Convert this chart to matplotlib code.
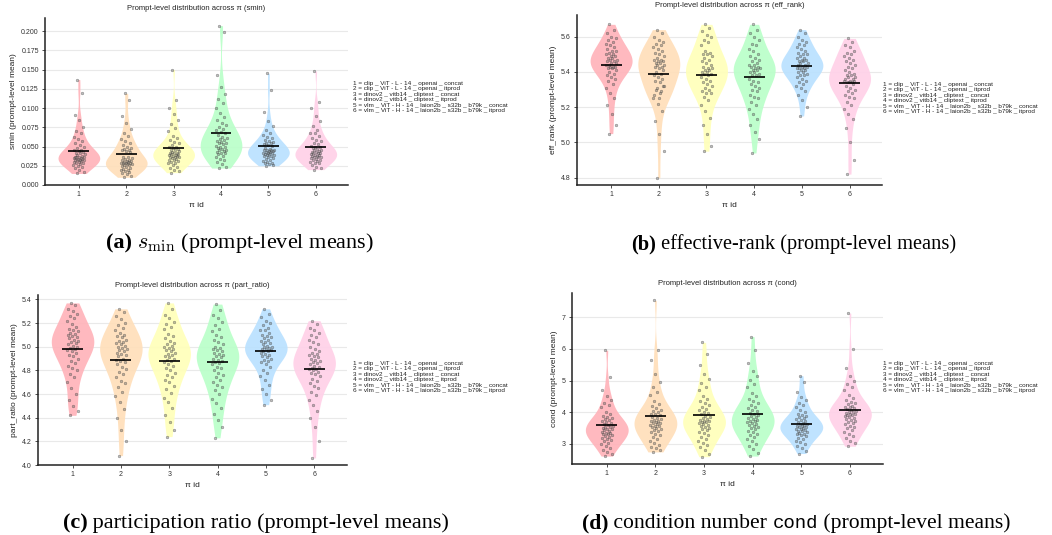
import numpy as np
import matplotlib
matplotlib.use("Agg")
import matplotlib.pyplot as plt
from matplotlib.offsetbox import TextArea, HPacker, AnnotationBbox

plt.rcParams["font.family"] = ["Liberation Sans", "DejaVu Sans"]
plt.rcParams["mathtext.fontset"] = "cm"

pi_ids = [1, 2, 3, 4, 5, 6]
pi_names = [
    "clip _ ViT - L - 14 _ openai _ concat",
    "clip _ ViT - L - 14 _ openai _ itprod",
    "dinov2 _ vitb14 _ cliptext _ concat",
    "dinov2 _ vitb14 _ cliptext _ itprod",
    "vlm _ ViT - H - 14 _ laion2b _ s32b _ b79k _ concat",
    "vlm _ ViT - H - 14 _ laion2b _ s32b _ b79k _ itprod",
]
colors = ["#FFB3BA", "#FFDFBA", "#FFFFBA", "#BAFFC9", "#BAE1FF", "#FFD1E8"]

# ---- prompt-level means ----
smin = [
    [0.015, 0.017, 0.020, 0.022, 0.024, 0.025, 0.026, 0.027, 0.028, 0.029,
     0.030, 0.030, 0.031, 0.032, 0.032, 0.033, 0.033, 0.034, 0.034, 0.035,
     0.035, 0.036, 0.036, 0.037, 0.037, 0.038, 0.039, 0.040, 0.041, 0.042,
     0.043, 0.044, 0.045, 0.046, 0.048, 0.050, 0.052, 0.054, 0.057, 0.060,
     0.063, 0.067, 0.070, 0.075, 0.085, 0.091, 0.120, 0.137],
    [0.010, 0.012, 0.014, 0.016, 0.017, 0.018, 0.019, 0.020, 0.021, 0.022,
     0.024, 0.025, 0.026, 0.026, 0.027, 0.027, 0.028, 0.028, 0.029, 0.029,
     0.030, 0.030, 0.031, 0.031, 0.032, 0.033, 0.034, 0.035, 0.036, 0.037,
     0.043, 0.044, 0.045, 0.046, 0.047, 0.048, 0.050, 0.052, 0.054, 0.057,
     0.060, 0.064, 0.068, 0.073, 0.080, 0.090, 0.110, 0.119],
    [0.016, 0.018, 0.020, 0.022, 0.024, 0.026, 0.028, 0.029, 0.030, 0.031,
     0.032, 0.033, 0.034, 0.035, 0.036, 0.037, 0.037, 0.038, 0.038, 0.039,
     0.039, 0.040, 0.040, 0.041, 0.041, 0.042, 0.043, 0.044, 0.045, 0.046,
     0.047, 0.048, 0.049, 0.050, 0.052, 0.054, 0.056, 0.058, 0.061, 0.064,
     0.070, 0.074, 0.079, 0.085, 0.092, 0.100, 0.110, 0.150],
    [0.022, 0.024, 0.027, 0.030, 0.032, 0.034, 0.036, 0.038, 0.040, 0.042,
     0.042, 0.043, 0.044, 0.045, 0.046, 0.047, 0.048, 0.049, 0.050, 0.051,
     0.053, 0.054, 0.055, 0.056, 0.057, 0.058, 0.060, 0.061, 0.063, 0.065,
     0.068, 0.069, 0.071, 0.073, 0.075, 0.078, 0.081, 0.084, 0.088, 0.093,
     0.100, 0.106, 0.112, 0.118, 0.127, 0.143, 0.199, 0.207],
    [0.025, 0.026, 0.027, 0.028, 0.029, 0.030, 0.031, 0.032, 0.034, 0.035,
     0.037, 0.038, 0.038, 0.039, 0.039, 0.040, 0.040, 0.041, 0.041, 0.042,
     0.043, 0.043, 0.044, 0.044, 0.045, 0.045, 0.046, 0.046, 0.047, 0.048,
     0.051, 0.052, 0.053, 0.054, 0.055, 0.056, 0.057, 0.059, 0.061, 0.063,
     0.065, 0.068, 0.072, 0.077, 0.083, 0.095, 0.123, 0.145],
    [0.020, 0.022, 0.024, 0.026, 0.028, 0.029, 0.030, 0.031, 0.032, 0.033,
     0.034, 0.035, 0.036, 0.036, 0.037, 0.038, 0.038, 0.039, 0.039, 0.040,
     0.041, 0.041, 0.042, 0.043, 0.043, 0.044, 0.045, 0.046, 0.047, 0.048,
     0.049, 0.050, 0.051, 0.053, 0.055, 0.057, 0.059, 0.061, 0.064, 0.067,
     0.068, 0.072, 0.077, 0.083, 0.090, 0.100, 0.108, 0.148],
]

eff_rank = [
    [5.05, 5.10, 5.16, 5.21, 5.25, 5.28, 5.31, 5.33, 5.35, 5.36,
     5.37, 5.38, 5.39, 5.40, 5.41, 5.42, 5.42, 5.43, 5.43, 5.44,
     5.43, 5.44, 5.45, 5.45, 5.46, 5.46, 5.47, 5.47, 5.48, 5.48,
     5.49, 5.49, 5.50, 5.50, 5.51, 5.52, 5.52, 5.53, 5.54, 5.55,
     5.56, 5.57, 5.58, 5.59, 5.60, 5.62, 5.64, 5.67],
    [4.80, 4.95, 5.05, 5.12, 5.18, 5.22, 5.25, 5.28, 5.30, 5.32,
     5.25, 5.27, 5.29, 5.31, 5.32, 5.34, 5.35, 5.36, 5.37, 5.38,
     5.39, 5.40, 5.41, 5.42, 5.43, 5.43, 5.44, 5.44, 5.45, 5.45,
     5.46, 5.46, 5.47, 5.47, 5.48, 5.49, 5.50, 5.51, 5.52, 5.53,
     5.54, 5.55, 5.56, 5.57, 5.58, 5.60, 5.62, 5.64],
    [4.95, 4.98, 5.05, 5.10, 5.14, 5.18, 5.21, 5.24, 5.26, 5.28,
     5.28, 5.29, 5.30, 5.31, 5.32, 5.33, 5.34, 5.35, 5.36, 5.37,
     5.38, 5.39, 5.39, 5.40, 5.40, 5.41, 5.41, 5.42, 5.42, 5.43,
     5.44, 5.45, 5.46, 5.47, 5.48, 5.49, 5.50, 5.50, 5.51, 5.52,
     5.55, 5.57, 5.58, 5.60, 5.61, 5.63, 5.65, 5.67],
    [4.94, 5.02, 5.06, 5.10, 5.13, 5.16, 5.19, 5.21, 5.23, 5.25,
     5.26, 5.27, 5.29, 5.30, 5.31, 5.32, 5.33, 5.34, 5.35, 5.36,
     5.38, 5.38, 5.39, 5.40, 5.40, 5.41, 5.41, 5.42, 5.42, 5.43,
     5.43, 5.44, 5.44, 5.45, 5.46, 5.47, 5.48, 5.49, 5.50, 5.52,
     5.53, 5.55, 5.56, 5.58, 5.60, 5.62, 5.64, 5.67],
    [5.15, 5.20, 5.24, 5.27, 5.29, 5.31, 5.32, 5.33, 5.34, 5.35,
     5.36, 5.37, 5.38, 5.38, 5.39, 5.40, 5.40, 5.41, 5.41, 5.42,
     5.42, 5.42, 5.43, 5.43, 5.44, 5.44, 5.45, 5.45, 5.46, 5.46,
     5.47, 5.47, 5.48, 5.48, 5.49, 5.50, 5.50, 5.51, 5.52, 5.53,
     5.54, 5.55, 5.56, 5.57, 5.58, 5.60, 5.62, 5.64],
    [4.82, 4.90, 5.00, 5.08, 5.13, 5.16, 5.19, 5.21, 5.23, 5.25,
     5.26, 5.27, 5.28, 5.29, 5.30, 5.31, 5.32, 5.33, 5.34, 5.35,
     5.34, 5.34, 5.35, 5.35, 5.36, 5.36, 5.37, 5.37, 5.38, 5.38,
     5.39, 5.40, 5.41, 5.42, 5.43, 5.44, 5.45, 5.46, 5.47, 5.48,
     5.49, 5.50, 5.51, 5.52, 5.54, 5.55, 5.57, 5.59],
]

part_ratio = [
    [4.42, 4.46, 4.50, 4.55, 4.60, 4.65, 4.70, 4.74, 4.77, 4.80,
     4.82, 4.84, 4.86, 4.88, 4.90, 4.92, 4.93, 4.95, 4.96, 4.97,
     4.98, 4.99, 5.00, 5.01, 5.02, 5.03, 5.04, 5.05, 5.06, 5.07,
     5.08, 5.09, 5.10, 5.11, 5.12, 5.13, 5.14, 5.15, 5.17, 5.19,
     5.22, 5.24, 5.26, 5.28, 5.30, 5.32, 5.35, 5.37],
    [4.08, 4.20, 4.30, 4.40, 4.47, 4.53, 4.58, 4.62, 4.66, 4.69,
     4.71, 4.74, 4.77, 4.79, 4.81, 4.83, 4.85, 4.87, 4.88, 4.89,
     4.90, 4.92, 4.93, 4.94, 4.95, 4.96, 4.97, 4.98, 4.99, 5.00,
     5.01, 5.02, 5.03, 5.04, 5.05, 5.06, 5.08, 5.09, 5.10, 5.12,
     5.14, 5.16, 5.18, 5.20, 5.23, 5.26, 5.29, 5.32],
    [4.24, 4.30, 4.36, 4.42, 4.48, 4.53, 4.57, 4.61, 4.64, 4.67,
     4.70, 4.72, 4.74, 4.76, 4.78, 4.80, 4.82, 4.84, 4.85, 4.87,
     4.88, 4.89, 4.90, 4.91, 4.92, 4.93, 4.94, 4.95, 4.96, 4.97,
     4.98, 4.99, 5.00, 5.01, 5.02, 5.03, 5.05, 5.07, 5.09, 5.11,
     5.15, 5.17, 5.19, 5.21, 5.24, 5.27, 5.32, 5.37],
    [4.23, 4.32, 4.38, 4.43, 4.48, 4.52, 4.56, 4.60, 4.63, 4.66,
     4.68, 4.70, 4.72, 4.74, 4.76, 4.78, 4.80, 4.82, 4.83, 4.85,
     4.86, 4.87, 4.88, 4.89, 4.90, 4.91, 4.92, 4.93, 4.94, 4.95,
     4.96, 4.97, 4.98, 4.99, 5.00, 5.02, 5.04, 5.06, 5.08, 5.10,
     5.13, 5.15, 5.18, 5.21, 5.24, 5.27, 5.31, 5.36],
    [4.51, 4.55, 4.60, 4.64, 4.68, 4.72, 4.75, 4.78, 4.80, 4.83,
     4.85, 4.87, 4.88, 4.89, 4.90, 4.91, 4.92, 4.93, 4.94, 4.95,
     4.96, 4.96, 4.97, 4.98, 4.98, 4.99, 5.00, 5.00, 5.01, 5.02,
     5.03, 5.04, 5.05, 5.06, 5.07, 5.08, 5.09, 5.10, 5.12, 5.14,
     5.14, 5.16, 5.18, 5.20, 5.22, 5.25, 5.28, 5.32],
    [4.06, 4.20, 4.32, 4.40, 4.46, 4.51, 4.55, 4.59, 4.62, 4.65,
     4.67, 4.69, 4.71, 4.73, 4.75, 4.77, 4.78, 4.79, 4.80, 4.81,
     4.81, 4.82, 4.83, 4.84, 4.85, 4.86, 4.87, 4.88, 4.89, 4.90,
     4.91, 4.92, 4.93, 4.94, 4.95, 4.96, 4.98, 5.00, 5.02, 5.04,
     5.06, 5.08, 5.10, 5.12, 5.14, 5.16, 5.19, 5.22],
]

cond = [
    [2.62, 2.68, 2.75, 2.82, 2.88, 2.94, 2.99, 3.04, 3.09, 3.14,
     3.15, 3.18, 3.21, 3.24, 3.27, 3.30, 3.32, 3.34, 3.36, 3.39,
     3.42, 3.44, 3.46, 3.48, 3.50, 3.52, 3.54, 3.56, 3.59, 3.62,
     3.66, 3.69, 3.72, 3.75, 3.78, 3.81, 3.85, 3.89, 3.94, 4.00,
     4.15, 4.22, 4.30, 4.40, 4.52, 4.70, 5.10, 5.95],
    [2.75, 2.80, 2.86, 2.92, 2.98, 3.04, 3.10, 3.16, 3.22, 3.28,
     3.33, 3.37, 3.41, 3.44, 3.47, 3.50, 3.53, 3.56, 3.58, 3.60,
     3.63, 3.65, 3.67, 3.69, 3.71, 3.73, 3.76, 3.79, 3.82, 3.86,
     3.90, 3.93, 3.96, 4.00, 4.04, 4.08, 4.13, 4.19, 4.26, 4.35,
     4.55, 4.65, 4.78, 4.95, 5.20, 5.65, 5.95, 7.52],
    [2.60, 2.70, 2.80, 2.89, 2.97, 3.04, 3.11, 3.17, 3.23, 3.29,
     3.35, 3.39, 3.43, 3.47, 3.50, 3.53, 3.56, 3.59, 3.62, 3.65,
     3.68, 3.70, 3.72, 3.74, 3.77, 3.80, 3.83, 3.86, 3.89, 3.93,
     3.98, 4.02, 4.06, 4.11, 4.16, 4.22, 4.28, 4.35, 4.43, 4.52,
     4.70, 4.80, 4.92, 5.05, 5.20, 5.50, 5.85, 6.20],
    [2.62, 2.72, 2.83, 2.93, 3.01, 3.08, 3.15, 3.21, 3.27, 3.32,
     3.38, 3.42, 3.46, 3.50, 3.53, 3.56, 3.59, 3.62, 3.65, 3.68,
     3.71, 3.74, 3.77, 3.80, 3.83, 3.86, 3.89, 3.92, 3.95, 3.99,
     4.04, 4.08, 4.12, 4.17, 4.22, 4.28, 4.35, 4.42, 4.50, 4.60,
     4.78, 4.90, 5.02, 5.15, 5.30, 5.55, 5.95, 6.38],
    [2.70, 2.78, 2.86, 2.93, 3.00, 3.06, 3.11, 3.16, 3.20, 3.24,
     3.27, 3.30, 3.33, 3.36, 3.38, 3.40, 3.42, 3.44, 3.46, 3.48,
     3.50, 3.52, 3.54, 3.56, 3.58, 3.60, 3.62, 3.64, 3.66, 3.69,
     3.72, 3.75, 3.78, 3.81, 3.84, 3.87, 3.91, 3.95, 4.00, 4.06,
     4.15, 4.22, 4.30, 4.38, 4.48, 4.65, 4.95, 5.15],
    [2.93, 3.02, 3.10, 3.18, 3.25, 3.32, 3.38, 3.44, 3.49, 3.54,
     3.58, 3.62, 3.66, 3.69, 3.72, 3.75, 3.78, 3.81, 3.84, 3.87,
     3.90, 3.92, 3.94, 3.96, 3.98, 4.00, 4.02, 4.05, 4.08, 4.11,
     4.12, 4.15, 4.18, 4.21, 4.25, 4.29, 4.33, 4.38, 4.45, 4.55,
     4.70, 4.78, 4.88, 5.00, 5.15, 5.40, 6.00, 7.12],
]

panels = [
    dict(data=smin, key="smin", ylim=(0.0, 0.217),
         yticks=[0.0, 0.025, 0.05, 0.075, 0.1, 0.125, 0.15, 0.175, 0.2], fmt="{:.3f}",
         rect=(45, 18, 348, 185), legend=(353, 81)),
    dict(data=eff_rank, key="eff_rank", ylim=(4.758, 5.723),
         yticks=[4.8, 5.0, 5.2, 5.4, 5.6], fmt="{:.1f}",
         rect=(577, 15, 882, 185), legend=(883, 82)),
    dict(data=part_ratio, key="part_ratio", ylim=(4.0, 5.437),
         yticks=[4.0, 4.2, 4.4, 4.6, 4.8, 5.0, 5.2, 5.4], fmt="{:.1f}",
         rect=(38, 295, 347, 465), legend=(353, 361)),
    dict(data=cond, key="cond", ylim=(2.37, 7.756),
         yticks=[3, 4, 5, 6, 7], fmt="{:.0f}",
         rect=(572, 293, 883, 464), legend=(883, 361)),
]

W, H = 1052, 535
fig = plt.figure(figsize=(W / 100, H / 100), dpi=100)


def kde(values, grid, factor):
    v = np.asarray(values, dtype=float)
    bw = factor * v.std(ddof=1)
    z = (grid[:, None] - v[None, :]) / bw
    return np.exp(-0.5 * z ** 2).sum(axis=1) / (len(v) * bw * np.sqrt(2 * np.pi))


legend_text = "\n".join(f"{i} = {n}" for i, n in zip(pi_ids, pi_names))

for p in panels:
    l, t, r, b = p["rect"]
    ax = fig.add_axes([l / W, 1 - b / H, (r - l) / W, (b - t) / H])
    groups = p["data"]
    for x, g, c in zip(pi_ids, groups, colors):
        grid = np.linspace(min(g), max(g), 300)
        d = kde(g, grid, len(g) ** -0.2 * 0.9)
        hw = d / d.max() * 0.44
        ax.fill_betweenx(grid, x - hw, x + hw, color=c, lw=0, alpha=0.92, zorder=2)
        n = len(g)
        jit = ((np.arange(n) * 0.6180339887 + 0.31) % 1.0 - 0.5) * 0.24
        ax.scatter(x + jit, g, s=3.8, c="#707070", alpha=0.45,
                   edgecolors="#202020", linewidths=0.35, zorder=3)
        ax.hlines(np.mean(g), x - 0.22, x + 0.22, color="black", lw=1.2, zorder=4)

    ax.set_xlim(0.285, 6.68)
    ax.set_ylim(*p["ylim"])
    ax.set_xticks(pi_ids)
    ax.set_xticklabels([str(i) for i in pi_ids])
    ax.set_yticks(p["yticks"])
    ax.set_yticklabels([p["fmt"].format(v) for v in p["yticks"]])
    ax.yaxis.grid(True, color="#e9e9e9", lw=0.8, zorder=0)
    ax.set_axisbelow(True)
    for s in ("top", "right"):
        ax.spines[s].set_visible(False)
    for s in ("left", "bottom"):
        ax.spines[s].set_color("#222222")
        ax.spines[s].set_linewidth(1.1)
    ax.tick_params(labelsize=5, length=2.5, width=0.6, colors="#333333", pad=2)
    ax.set_title(f"Prompt-level distribution across π ({p['key']})", fontsize=5.5,
                 pad=5.5, color="#222222")
    ax.set_xlabel("π id", fontsize=6, labelpad=3, color="#222222")
    ax.set_ylabel(f"{p['key']} (prompt-level mean)", fontsize=6, labelpad=3,
                  color="#222222")

    lx, ly = p["legend"]
    fig.text(lx / W, 1 - ly / H, legend_text, fontsize=4.55, va="top", ha="left",
             linespacing=1.1, color="#222222")

serif = ["Liberation Serif", "DejaVu Serif"]
mono = ["Liberation Mono", "DejaVu Sans Mono"]
captions = [
    ([("(a)", serif, "bold"), (r" $s_{\min}$ (prompt-level means)", serif, "normal")],
     (240, 243), 16),
    ([("(b)", serif, "bold"), (" effective-rank (prompt-level means)", serif, "normal")],
     (794, 244), 14.7),
    ([("(c)", serif, "bold"), (" participation ratio (prompt-level means)", serif, "normal")],
     (256, 523), 16),
    ([("(d)", serif, "bold"), (" condition number ", serif, "normal"), ("cond", mono, "normal"),
      (" (prompt-level means)", serif, "normal")], (796, 523), 15.6),
]
for parts, (cx, cy), fs in captions:
    children = []
    for s, fam, wt in parts:
        size = fs * 0.88 if fam is mono else fs
        children.append(TextArea(s, textprops=dict(family=fam, size=size, weight=wt)))
    box = HPacker(children=children, align="baseline", pad=0, sep=0)
    ab = AnnotationBbox(box, (cx / W, 1 - cy / H), xycoords="figure fraction",
                        frameon=False, box_alignment=(0.5, 0.5), pad=0)
    fig.add_artist(ab)

fig.savefig("out.png", dpi=100)
